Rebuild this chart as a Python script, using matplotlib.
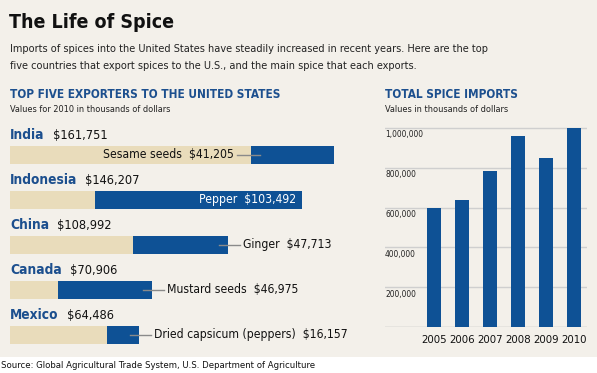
import matplotlib
matplotlib.use("Agg")
import matplotlib.pyplot as plt
from matplotlib import font_manager

# data
countries = ["India", "Indonesia", "China", "Canada", "Mexico"]
totals = [161751, 146207, 108992, 70906, 64486]
spices = ["Sesame seeds", "Pepper", "Ginger", "Mustard seeds", "Dried capsicum (peppers)"]
spice_values = [41205, 103492, 47713, 46975, 16157]
label_pos = ["before", "inside", "after", "after", "after"]

years = ["2005", "2006", "2007", "2008", "2009", "2010"]
imports = [597000, 637000, 783000, 961000, 849000, 998000]
yticks = [200000, 400000, 600000, 800000, 1000000]

BG = "#f3f0ea"
BEIGE = "#e9dcbb"
BLUE = "#0e5195"
HEAD = "#1c4f8e"

cond = [f for f in font_manager.fontManager.ttflist
        if f.name == "DejaVu Sans" and f.stretch == "condensed"]
if cond:
    plt.rcParams["font.family"] = ["DejaVu Sans"]
    plt.rcParams["font.stretch"] = "condensed"
    SC = 1.0
else:
    plt.rcParams["font.family"] = ["Roboto", "DejaVu Sans"]
    SC = 0.85

W, H = 597, 373
fig = plt.figure(figsize=(W / 100, H / 100), dpi=100)
fig.patch.set_facecolor(BG)


def px_axes(x0, y0, x1, y1):
    # pixel box (top-left origin) -> axes
    return fig.add_axes([x0 / W, 1 - y1 / H, (x1 - x0) / W, (y1 - y0) / H])


def ftext(x, y, s, size, **kw):
    fig.text(x / W, 1 - y / H, s, fontsize=size * SC, **kw)


# white strip for the source line
strip = px_axes(0, 357, W, H)
strip.set_facecolor("white")
strip.set_xticks([])
strip.set_yticks([])
for sp in strip.spines.values():
    sp.set_visible(False)

ftext(9, 22, "The Life of Spice", 14, fontweight="bold", va="center", color="#111111")
ftext(10, 49, "Imports of spices into the United States have steadily increased in recent years. Here are the top",
      7.8, va="center", color="#222222")
ftext(10, 66, "five countries that export spices to the U.S., and the main spice that each exports.",
      7.8, va="center", color="#222222")

ftext(10, 95, "TOP FIVE EXPORTERS TO THE UNITED STATES", 8.5, fontweight="bold", va="center", color=HEAD)
ftext(10, 109, "Values for 2010 in thousands of dollars", 6.6, va="center", color="#222222")
ftext(385, 95, "TOTAL SPICE IMPORTS", 8.5, fontweight="bold", va="center", color=HEAD)
ftext(385, 109, "Values in thousands of dollars", 6.6, va="center", color="#222222")

ftext(1, 366, "Source: Global Agricultural Trade System, U.S. Department of Agriculture",
      6.8, va="center", color="#111111")

# left: exporters
ax = px_axes(10, 120, 350, 350)
ax.set_facecolor("none")
ax.set_xlim(0, 170000)
ax.set_ylim(4.344, -0.767)
ax.axis("off")
rows = list(range(len(countries)))
ax.barh(rows, totals, height=0.4, color=BEIGE, edgecolor="none")
ax.barh(rows, spice_values, left=[t - s for t, s in zip(totals, spice_values)],
        height=0.4, color=BLUE, edgecolor="none")

for i in rows:
    t = ax.text(0, i - 0.43, countries[i], fontsize=9.9 * SC, fontweight="bold", color=HEAD, va="center")
    fig.canvas.draw()
    bb = t.get_window_extent().transformed(ax.transData.inverted())
    ax.text(bb.x1 + 4000, i - 0.43, f"${totals[i]:,}", fontsize=9.2 * SC, color="#111111", va="center")
    lab = f"{spices[i]}  ${spice_values[i]:,}"
    start = totals[i] - spice_values[i]
    if label_pos[i] == "inside":
        ax.text(totals[i] - 3000, i, lab, fontsize=8.7 * SC, color="white", va="center", ha="right")
    elif label_pos[i] == "before":
        ax.plot([start - 7000, start + 4500], [i, i], color="#8a8a8a", lw=1)
        ax.text(start - 8500, i, lab, fontsize=8.7 * SC, color="#111111", va="center", ha="right")
    else:
        ax.plot([totals[i] - 4500, totals[i] + 6000], [i, i], color="#8a8a8a", lw=1)
        ax.text(totals[i] + 7500, i, lab, fontsize=8.7 * SC, color="#111111", va="center", ha="left")

# right: total imports
ax2 = px_axes(385, 120, 587, 327)
ax2.set_facecolor("none")
ax2.set_xlim(-1.75, 5.46)
ax2.set_ylim(0, 1040000)
for sp in ax2.spines.values():
    sp.set_visible(False)
ax2.set_yticks([])
ax2.tick_params(axis="x", length=0, pad=6, labelsize=8.2 * SC)
for v in yticks:
    ax2.axhline(v, color="#cfcfcf", lw=1, zorder=0)
    ax2.text(-1.75, v - 12000, f"{v:,}", fontsize=6.0 * SC, va="top", ha="left", color="#222222")
ax2.axhline(0, color="#b5b5b5", lw=1, zorder=0)
x = list(range(len(years)))
ax2.bar(x, imports, width=0.5, color=BLUE, zorder=2)
ax2.set_xticks(x)
ax2.set_xticklabels(years, color="#111111")

fig.savefig("out.png", dpi=100, facecolor=BG)
